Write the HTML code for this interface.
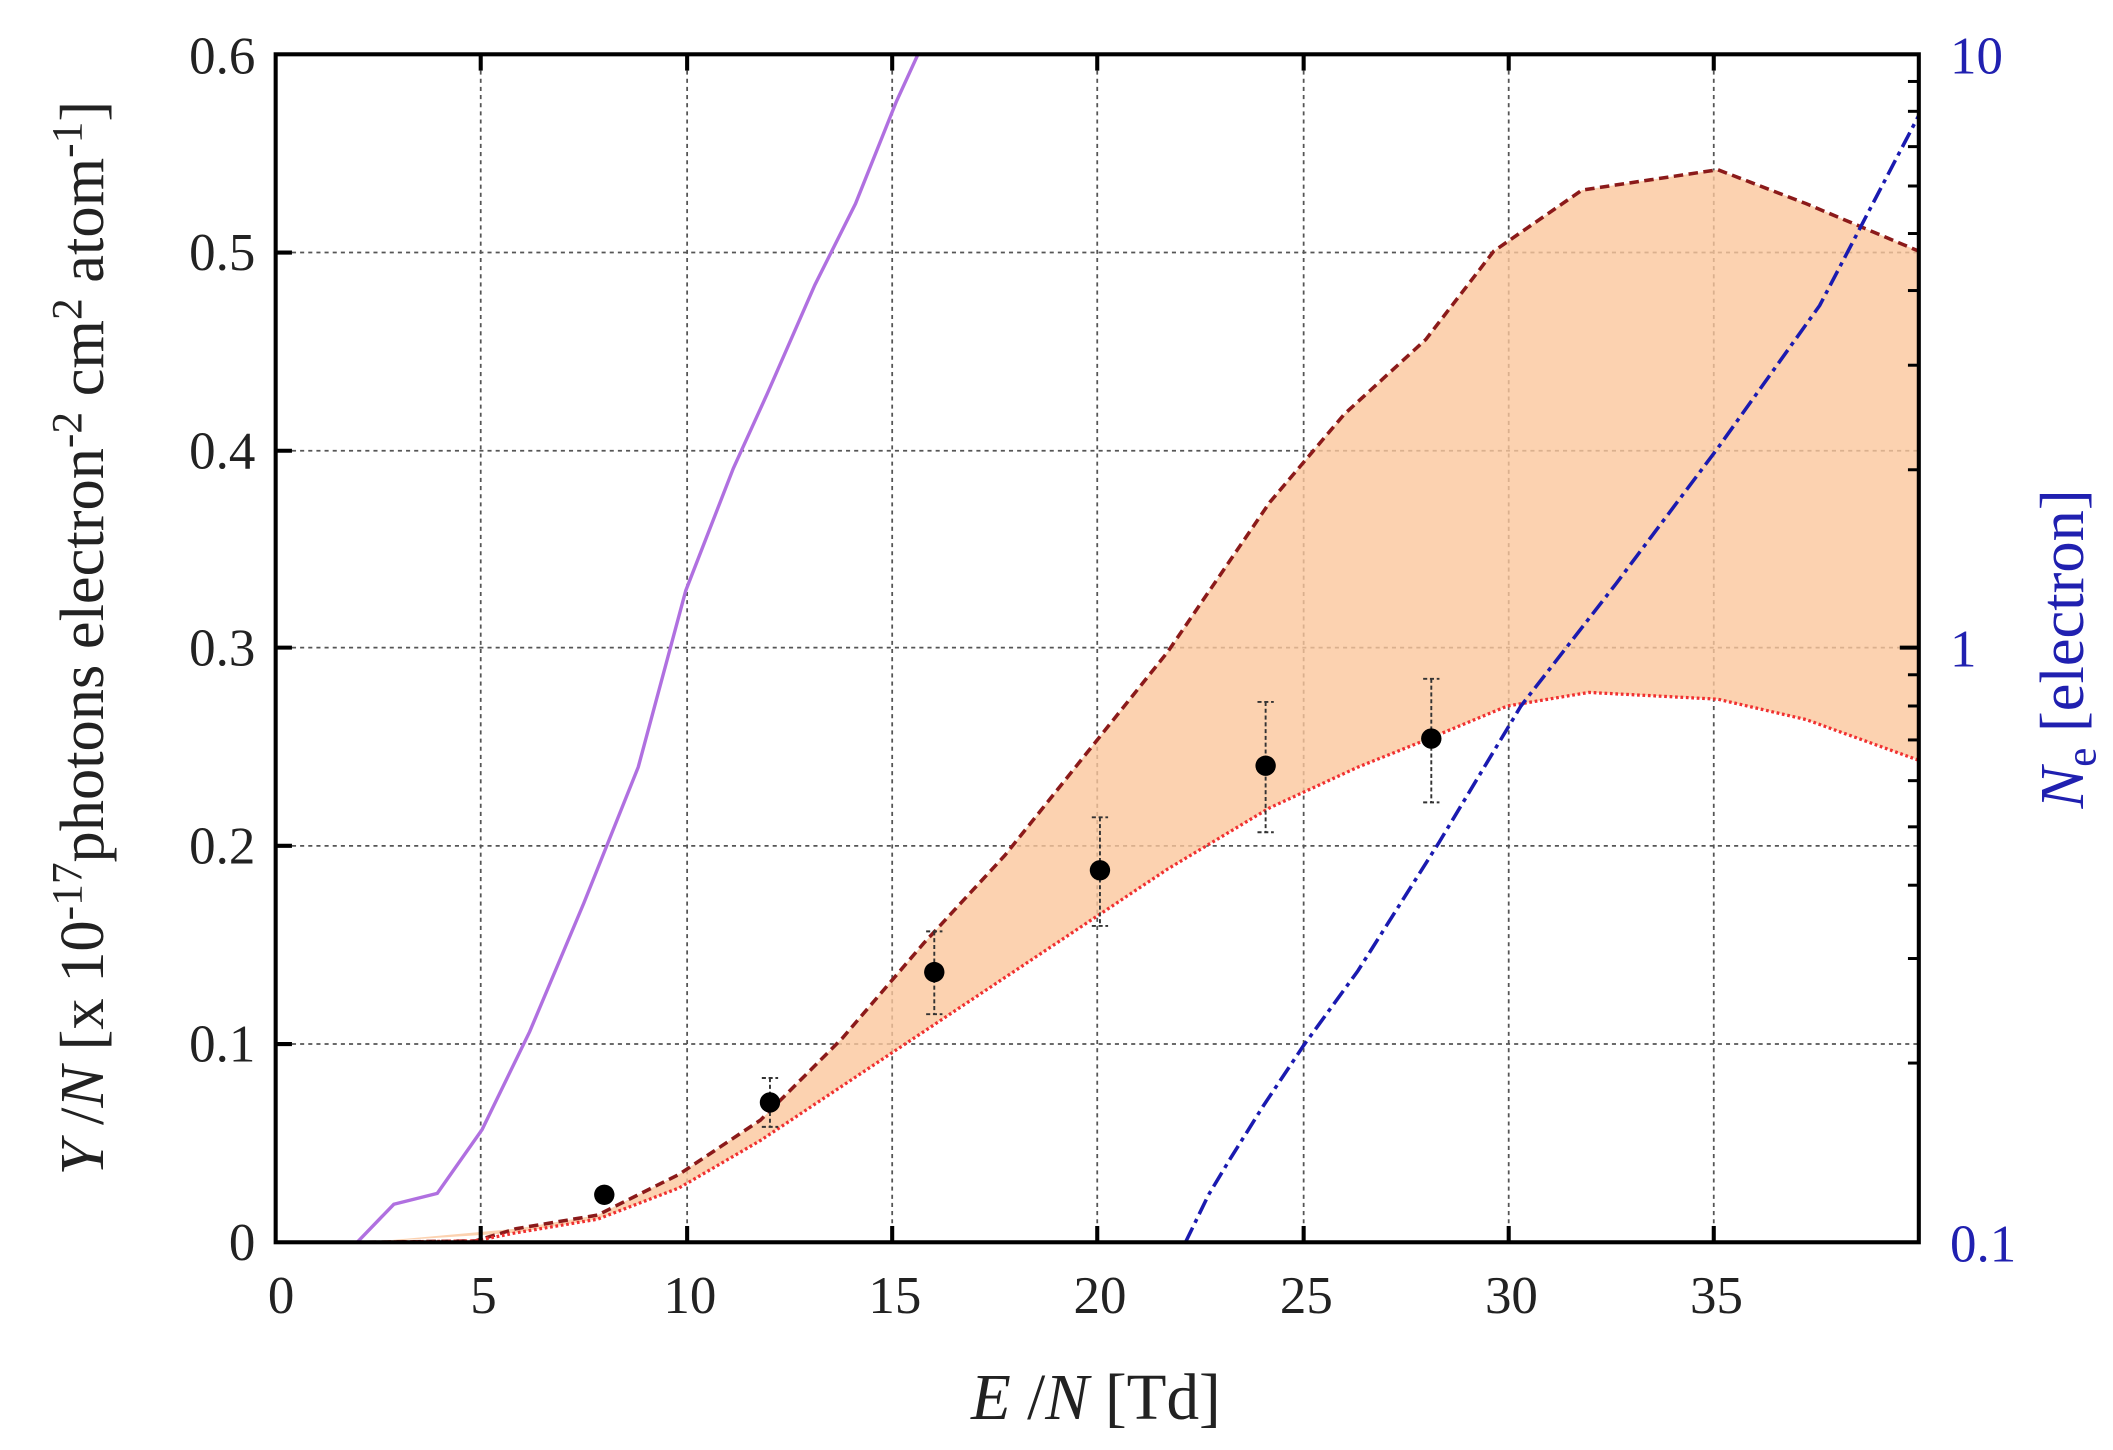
<!DOCTYPE html>
<html><head><meta charset="utf-8"><style>
html,body{margin:0;padding:0;background:#fff;}
svg{display:block;}
text{font-family:"Liberation Serif",serif;}
</style></head><body>
<svg width="2113" height="1450" viewBox="0 0 1556 1068" preserveAspectRatio="none" xmlns="http://www.w3.org/2000/svg">
<rect width="1556" height="1068" fill="#fff"/>
<g stroke="#555" stroke-width="1.3" stroke-dasharray="3,3">
<line x1="354" y1="40" x2="354" y2="915"/>
<line x1="506" y1="40" x2="506" y2="915"/>
<line x1="657" y1="40" x2="657" y2="915"/>
<line x1="808" y1="40" x2="808" y2="915"/>
<line x1="960" y1="40" x2="960" y2="915"/>
<line x1="1111" y1="40" x2="1111" y2="915"/>
<line x1="1262" y1="40" x2="1262" y2="915"/>
<line x1="203" y1="769" x2="1413" y2="769"/>
<line x1="203" y1="623" x2="1413" y2="623"/>
<line x1="203" y1="477" x2="1413" y2="477"/>
<line x1="203" y1="332" x2="1413" y2="332"/>
<line x1="203" y1="186" x2="1413" y2="186"/>
</g>
<polygon fill="#fbc79c" fill-opacity="0.8" points="270,915 380,905 440,895 500,865 560,825 620,765 680,695 740,630 800,555 860,480 935,370 990,305 1050,250 1100,185 1165,140 1265,125 1330,150 1413,185 1413,560 1330,530 1265,515 1170,510 1110,520 1050,545 1000,565 935,595 860,640 800,680 740,720 680,760 620,800 560,840 500,875 440,898 380,908 270,915"/>
<polyline fill="none" stroke="#8b1a1a" stroke-width="2.6" stroke-dasharray="7,4" points="270,915 350,914 380,905 440,895 500,865 560,825 620,765 680,695 740,630 800,555 860,480 935,370 990,305 1050,250 1100,185 1165,140 1265,125 1330,150 1413,185"/>
<polyline fill="none" stroke="#f03030" stroke-width="2.4" stroke-dasharray="2,2" points="270,915 350,914 380,908 440,898 500,875 560,840 620,800 680,760 740,720 800,680 860,640 935,595 1000,565 1050,545 1110,520 1170,510 1265,515 1330,530 1413,560"/>
<polyline fill="none" stroke="#b070e0" stroke-width="2.5" points="232,915 263,915 290,887 322,879 355,832 390,760 430,665 470,565 505,435 540,345 565,290 600,210 630,150 660,75 676,40"/>
<polyline fill="none" stroke="#1a1ab0" stroke-width="2.6" stroke-dasharray="12,4,3,4" points="873,915 890,880 905,855 930,815 960,770 1000,715 1060,620 1120,520 1190,430 1265,330 1340,225 1413,85"/>
<g stroke="#333" stroke-width="1.4" stroke-dasharray="3,2">
<line x1="567" y1="794" x2="567" y2="830"/><line x1="561" y1="794" x2="573" y2="794"/><line x1="561" y1="830" x2="573" y2="830"/>
<line x1="688" y1="686" x2="688" y2="747"/><line x1="682" y1="686" x2="694" y2="686"/><line x1="682" y1="747" x2="694" y2="747"/>
<line x1="810" y1="602" x2="810" y2="682"/><line x1="804" y1="602" x2="816" y2="602"/><line x1="804" y1="682" x2="816" y2="682"/>
<line x1="932" y1="517" x2="932" y2="613"/><line x1="926" y1="517" x2="938" y2="517"/><line x1="926" y1="613" x2="938" y2="613"/>
<line x1="1054" y1="500" x2="1054" y2="591"/><line x1="1048" y1="500" x2="1060" y2="500"/><line x1="1048" y1="591" x2="1060" y2="591"/>
</g>
<g fill="#000">
<circle cx="445" cy="880" r="7.5"/><circle cx="567" cy="812" r="7.5"/><circle cx="688" cy="716" r="7.5"/>
<circle cx="810" cy="641" r="7.5"/><circle cx="932" cy="564" r="7.5"/><circle cx="1054" cy="544" r="7.5"/>
</g>
<rect x="203" y="40" width="1210" height="875" fill="none" stroke="#000" stroke-width="3"/>
<g stroke="#000" stroke-width="3">
<line x1="354" y1="915" x2="354" y2="903"/><line x1="506" y1="915" x2="506" y2="903"/><line x1="657" y1="915" x2="657" y2="903"/><line x1="808" y1="915" x2="808" y2="903"/><line x1="960" y1="915" x2="960" y2="903"/><line x1="1111" y1="915" x2="1111" y2="903"/><line x1="1262" y1="915" x2="1262" y2="903"/>
<line x1="354" y1="40" x2="354" y2="52"/><line x1="506" y1="40" x2="506" y2="52"/><line x1="657" y1="40" x2="657" y2="52"/><line x1="808" y1="40" x2="808" y2="52"/><line x1="960" y1="40" x2="960" y2="52"/><line x1="1111" y1="40" x2="1111" y2="52"/><line x1="1262" y1="40" x2="1262" y2="52"/>
<line x1="203" y1="769" x2="215" y2="769"/><line x1="203" y1="623" x2="215" y2="623"/><line x1="203" y1="477" x2="215" y2="477"/><line x1="203" y1="332" x2="215" y2="332"/><line x1="203" y1="186" x2="215" y2="186"/>
<line x1="1413" y1="477" x2="1399" y2="477"/>
</g>
<g stroke="#000" stroke-width="2.2">
<line x1="1413" y1="783" x2="1405" y2="783"/><line x1="1413" y1="706" x2="1405" y2="706"/><line x1="1413" y1="652" x2="1405" y2="652"/><line x1="1413" y1="609" x2="1405" y2="609"/><line x1="1413" y1="575" x2="1405" y2="575"/><line x1="1413" y1="545" x2="1405" y2="545"/><line x1="1413" y1="520" x2="1405" y2="520"/><line x1="1413" y1="497" x2="1405" y2="497"/>
<line x1="1413" y1="346" x2="1405" y2="346"/><line x1="1413" y1="269" x2="1405" y2="269"/><line x1="1413" y1="214" x2="1405" y2="214"/><line x1="1413" y1="172" x2="1405" y2="172"/><line x1="1413" y1="137" x2="1405" y2="137"/><line x1="1413" y1="108" x2="1405" y2="108"/><line x1="1413" y1="82" x2="1405" y2="82"/><line x1="1413" y1="60" x2="1405" y2="60"/>
</g>
<g font-size="39" fill="#222" text-anchor="end">
<text x="188" y="928">0</text><text x="188" y="782">0.1</text><text x="188" y="636">0.2</text><text x="188" y="490">0.3</text><text x="188" y="345">0.4</text><text x="188" y="199">0.5</text><text x="188" y="54">0.6</text>
</g>
<g font-size="39" fill="#222" text-anchor="middle">
<text x="207" y="967">0</text><text x="356" y="967">5</text><text x="508" y="967">10</text><text x="659" y="967">15</text><text x="810" y="967">20</text><text x="962" y="967">25</text><text x="1113" y="967">30</text><text x="1264" y="967">35</text>
</g>
<g font-size="39" fill="#2020b0">
<text x="1436" y="54">10</text><text x="1436" y="491">1</text><text x="1436" y="929">0.1</text>
</g>
<text x="807" y="1045" font-size="48" text-anchor="middle" fill="#222"><tspan font-style="italic">E</tspan> /<tspan font-style="italic">N</tspan> [Td]</text>
<text transform="translate(76,470) rotate(-90)" font-size="46" text-anchor="middle" fill="#222"><tspan font-style="italic">Y</tspan> /<tspan font-style="italic">N</tspan> [x 10<tspan dy="-16" font-size="32">-17</tspan><tspan dy="16">photons electron</tspan><tspan dy="-16" font-size="32">-2</tspan><tspan dy="16"> cm</tspan><tspan dy="-16" font-size="32">2</tspan><tspan dy="16"> atom</tspan><tspan dy="-16" font-size="32">-1</tspan><tspan dy="16">]</tspan></text>
<text transform="translate(1534,478) rotate(-90)" font-size="46" text-anchor="middle" fill="#2020b0"><tspan font-style="italic">N</tspan><tspan font-size="32" dy="9">e</tspan><tspan dy="-9"> [electron]</tspan></text>
</svg>
</body></html>
